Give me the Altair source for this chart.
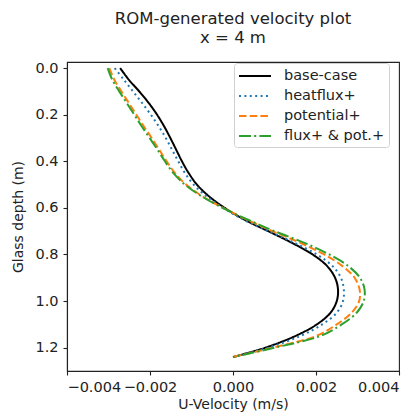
import altair as alt
import pandas as pd

# Glass depth (m)
depth = [0.00, 0.05, 0.10, 0.15, 0.20, 0.25, 0.30, 0.35, 0.40, 0.45, 0.50, 0.55, 0.60,
         0.65, 0.70, 0.75, 0.80, 0.85, 0.90, 0.95, 1.00, 1.05, 1.10, 1.15, 1.20, 1.24]

# U-velocity (x 1e-3 m/s) for each case
base_case = [-2.72, -2.51, -2.26, -2.03, -1.83, -1.66, -1.51, -1.37, -1.23, -1.07, -0.87, -0.58, -0.20,
             0.27, 0.85, 1.42, 1.92, 2.27, 2.46, 2.53, 2.50, 2.35, 2.02, 1.50, 0.78, 0.00]
heatflux = [-2.85, -2.63, -2.41, -2.19, -1.98, -1.79, -1.62, -1.47, -1.32, -1.16, -0.95, -0.64, -0.24,
            0.25, 0.85, 1.48, 2.02, 2.40, 2.60, 2.67, 2.65, 2.50, 2.15, 1.62, 0.84, 0.00]
potential = [-2.98, -2.86, -2.69, -2.51, -2.33, -2.15, -1.96, -1.78, -1.60, -1.40, -1.13, -0.74, -0.24,
             0.33, 0.95, 1.62, 2.20, 2.64, 2.93, 3.05, 3.04, 2.86, 2.50, 2.00, 0.95, 0.00]
flux_pot = [-3.02, -2.91, -2.74, -2.56, -2.38, -2.20, -2.01, -1.82, -1.64, -1.44, -1.16, -0.76, -0.25,
            0.35, 1.00, 1.72, 2.32, 2.78, 3.06, 3.17, 3.15, 2.98, 2.62, 2.10, 1.00, 0.00]

series_names = ["base-case", "heatflux+", "potential+", "flux+ & pot.+"]
series_vals = [base_case, heatflux, potential, flux_pot]
colors = ["#000000", "#1f77b4", "#ff7f0e", "#2ca02c"]
dashes = [[1, 0], [2, 3.4], [7.5, 3.2], [12, 3.2, 2, 3.2]]

rows = []
for name, vals in zip(series_names, series_vals):
    for d, v in zip(depth, vals):
        rows.append({"case": name, "depth": d, "u": v / 1000.0})
df = pd.DataFrame(rows)

txt = "#222222"

legend = alt.Legend(title=None, orient="none", legendX=167, legendY=1)

chart = alt.Chart(df).mark_line(strokeWidth=2, interpolate="catmull-rom").encode(
    x=alt.X("u:Q",
            scale=alt.Scale(domain=[-0.004, 0.004], nice=False, zero=False),
            axis=alt.Axis(title="U-Velocity (m/s)", values=[-0.004, -0.002, 0.0, 0.002, 0.004],
                          format=".3f", labelExpr="replace(datum.label, '-', '\u2212')",
                          labelPadding=5, titlePadding=4)),
    y=alt.Y("depth:Q",
            scale=alt.Scale(domain=[-0.026, 1.30], reverse=True, nice=False, zero=False),
            axis=alt.Axis(title="Glass depth (m)", values=[0.0, 0.2, 0.4, 0.6, 0.8, 1.0, 1.2],
                          format=".1f", labelPadding=5, titlePadding=9)),
    color=alt.Color("case:N", scale=alt.Scale(domain=series_names, range=colors), legend=legend),
    strokeDash=alt.StrokeDash("case:N", scale=alt.Scale(domain=series_names, range=dashes), legend=legend),
    order=alt.Order("depth:Q"),
).properties(
    width=332,
    height=309,
    title=alt.Title(["ROM-generated velocity plot", "x = 4 m"], fontSize=16.5,
                    font="DejaVu Sans", fontWeight="normal", color=txt, lineHeight=19,
                    anchor="middle", offset=14),
    autosize=alt.AutoSizeParams(type="none"),
    padding={"left": 59, "top": 54, "right": 12, "bottom": 46},
).configure_view(
    stroke=txt, strokeWidth=1.1
).configure_axis(
    grid=False, domainColor=txt, domainWidth=1.1, tickColor=txt, tickSize=4, tickWidth=1.1,
    labelFont="DejaVu Sans", labelFontSize=14.5, labelColor=txt,
    titleFont="DejaVu Sans", titleFontSize=14, titleColor=txt, titleFontWeight="normal",
).configure_legend(
    labelFont="DejaVu Sans", labelFontSize=14.5, labelColor=txt,
    symbolType="M-1,0H3", symbolSize=256, symbolStrokeWidth=2,
    fillColor="white", strokeColor="#d0d0d0", cornerRadius=3, padding=4,
    rowPadding=4, labelOffset=28, labelLimit=300,
)

chart.save("out.html", embed_options={"renderer": "svg", "actions": False})
